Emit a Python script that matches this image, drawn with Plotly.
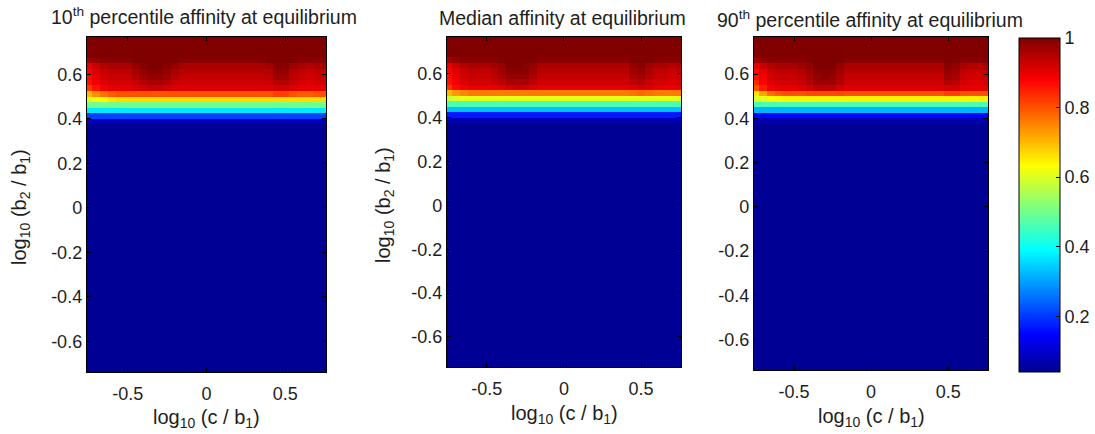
import plotly.graph_objects as go

W, H = 1095, 434

# ---- grid (cell centres) ----
x_vals = [round(-0.75 + 0.05 * i, 3) for i in range(31)]
y_vals = [round(-0.7375 + 0.025 * k, 4) for k in range(61)]  # ascending

x_tick_vals = [-0.5, 0, 0.5]
x_tick_text = ["-0.5", "0", "0.5"]
y_tick_vals = [-0.6, -0.4, -0.2, 0, 0.2, 0.4, 0.6]
y_tick_text = ["-0.6", "-0.4", "-0.2", "0", "0.2", "0.4", "0.6"]
cbar_tick_vals = [0.2, 0.4, 0.6, 0.8, 1.0]
cbar_tick_text = ["0.2", "0.4", "0.6", "0.8", "1"]

titles = ["10<sup>th</sup> percentile affinity at equilibrium",
          "Median affinity at equilibrium",
          "90<sup>th</sup> percentile affinity at equilibrium"]

# rows below y = 0.3875 are uniformly at the minimum (dark blue)
blue_row = [0.045] * 31
n_blue_rows = 45
top_row = [1.0] * 31  # rows 0.6875 .. 0.7625

# ---- 10th percentile: rows from y=0.6625 down to y=0.3875 ----
p10_rows = [
    [0.97, 0.98] + [0.99] * 4 + [1, 1, 1, 1, 1, 1] + [0.99] * 11 + [1, 1, 1, 1] + [0.99] * 4,
    [0.90, 0.93] + [0.95, 0.96, 0.96, 0.96] + [0.98, 0.99, 1.0, 1.0, 0.99, 0.98] + [0.96] * 11 + [0.97, 0.99, 0.99, 0.97] + [0.96, 0.95, 0.96, 0.96],
    [0.88, 0.91] + [0.93, 0.94, 0.94, 0.94] + [0.96, 0.98, 0.99, 0.99, 0.98, 0.96] + [0.945] * 11 + [0.95, 0.98, 0.98, 0.95] + [0.94, 0.93, 0.94, 0.94],
    [0.87, 0.90] + [0.92, 0.93, 0.93, 0.93] + [0.95, 0.97, 0.98, 0.98, 0.97, 0.95] + [0.935] * 11 + [0.94, 0.97, 0.97, 0.94] + [0.93, 0.92, 0.93, 0.93],
    [0.86, 0.89] + [0.91, 0.92, 0.92, 0.92] + [0.93, 0.95, 0.96, 0.96, 0.95, 0.93] + [0.925] * 11 + [0.93, 0.95, 0.95, 0.93] + [0.92, 0.91, 0.92, 0.92],
    [0.82, 0.86] + [0.89, 0.90, 0.90, 0.90] + [0.91, 0.92, 0.93, 0.93, 0.92, 0.91] + [0.91] * 11 + [0.91, 0.92, 0.92, 0.91] + [0.90] * 4,
    [0.70, 0.74] + [0.77, 0.79, 0.80, 0.80] + [0.80] * 6 + [0.80] * 11 + [0.80, 0.82, 0.82, 0.80] + [0.79, 0.79, 0.80, 0.80],
    [0.60, 0.62] + [0.64, 0.66, 0.67, 0.67] + [0.67] * 25,
    [0.50] * 31,
    [0.37] * 31,
    [0.21] * 31,
    [0.08] * 31,
]

# ---- median ----
p50_rows = [
    [0.97, 0.98] + [0.99] * 5 + [1, 1, 1, 1, 1] + [0.99] * 12 + [1, 1, 1] + [0.99] * 4,
    [0.90, 0.93] + [0.95, 0.96, 0.96, 0.96, 0.97] + [0.98, 1.0, 1.0, 0.99, 0.98] + [0.96] * 12 + [0.98, 0.99, 0.97] + [0.96, 0.96, 0.95, 0.96],
    [0.88, 0.91] + [0.93, 0.94, 0.94, 0.94, 0.95] + [0.97, 0.99, 0.99, 0.99, 0.97] + [0.945] * 12 + [0.97, 0.98, 0.96] + [0.94, 0.94, 0.93, 0.94],
    [0.87, 0.90] + [0.92, 0.93, 0.93, 0.93, 0.94] + [0.96, 0.98, 0.98, 0.98, 0.96] + [0.935] * 12 + [0.96, 0.97, 0.95] + [0.93, 0.93, 0.92, 0.93],
    [0.86, 0.89] + [0.91, 0.92, 0.92, 0.92, 0.93] + [0.94, 0.96, 0.96, 0.96, 0.94] + [0.925] * 12 + [0.94, 0.95, 0.93] + [0.92, 0.92, 0.91, 0.92],
    [0.83, 0.87] + [0.89, 0.90, 0.90, 0.90, 0.90] + [0.91, 0.92, 0.93, 0.92, 0.91] + [0.905] * 12 + [0.91, 0.92, 0.91] + [0.90] * 4,
    [0.70, 0.73] + [0.75, 0.76, 0.76, 0.76, 0.76] + [0.76] * 5 + [0.76] * 12 + [0.77, 0.78, 0.77] + [0.76] * 4,
    [0.58, 0.60] + [0.61] * 29,
    [0.46] * 31,
    [0.33] * 31,
    [0.17] * 31,
    [0.07] * 31,
]

# ---- 90th percentile ----
p90_rows = [
    [0.97, 0.98] + [0.99] * 5 + [1, 1, 1, 1, 1] + [0.99] * 13 + [1, 1] + [0.99] * 4,
    [0.90, 0.93] + [0.95, 0.96, 0.96, 0.96, 0.97] + [0.98, 1.0, 1.0, 1.0, 0.98] + [0.96] * 13 + [0.99, 0.98] + [0.96, 0.95, 0.95, 0.96],
    [0.87, 0.90] + [0.93, 0.94, 0.94, 0.94, 0.95] + [0.97, 0.99, 0.99, 0.99, 0.97] + [0.945] * 13 + [0.98, 0.97] + [0.94, 0.93, 0.93, 0.94],
    [0.86, 0.89] + [0.92, 0.93, 0.93, 0.93, 0.94] + [0.96, 0.98, 0.99, 0.98, 0.96] + [0.935] * 13 + [0.97, 0.96] + [0.93, 0.92, 0.92, 0.93],
    [0.84, 0.88] + [0.91, 0.92, 0.92, 0.92, 0.93] + [0.95, 0.97, 0.97, 0.97, 0.95] + [0.925] * 13 + [0.95, 0.94] + [0.92, 0.91, 0.91, 0.92],
    [0.80, 0.85] + [0.89, 0.90, 0.90, 0.90, 0.91] + [0.92, 0.94, 0.94, 0.94, 0.92] + [0.91] * 13 + [0.92, 0.92] + [0.90] * 4,
    [0.66, 0.72] + [0.77, 0.79, 0.80, 0.80, 0.80] + [0.81] * 5 + [0.80] * 13 + [0.82, 0.82] + [0.80] * 4,
    [0.60, 0.61] + [0.63, 0.64, 0.65, 0.65, 0.65] + [0.65] * 24,
    [0.46] * 31,
    [0.32] * 31,
    [0.15] * 31,
    [0.07] * 31,
]


def build_z(rows_top_down):
    # rows_top_down: y=0.6625 ... 0.3875 ; build ascending matrix
    z = [blue_row] * n_blue_rows
    z += list(reversed(rows_top_down))
    z += [top_row] * 4
    for r in z:
        assert len(r) == 31
    assert len(z) == len(y_vals)
    return z


jet64 = [[0.0, "rgb(0,0,143)"], [0.111, "rgb(0,0,255)"], [0.365, "rgb(0,255,255)"],
         [0.619, "rgb(255,255,0)"], [0.873, "rgb(255,0,0)"], [1.0, "rgb(128,0,0)"]]

fig = go.Figure()
panels = [p10_rows, p50_rows, p90_rows]
for i, rows in enumerate(panels):
    sfx = "" if i == 0 else str(i + 1)
    fig.add_trace(go.Heatmap(x=x_vals, y=y_vals, z=build_z(rows), coloraxis="coloraxis",
                             xaxis="x" + sfx, yaxis="y" + sfx, zsmooth=False, hoverinfo="skip"))

font_family = "Liberation Sans, Arial, sans-serif"
txt_col = "#1e1e1e"


def fx(px):
    return px / W


def fy(py):
    return 1 - py / H


# screen-pixel boxes of the three panels (as seen in the reference)
px_x = [(87, 327), (448, 683), (756, 991)]
px_y = [(37, 372), (37, 367), (37, 370)]

layout = dict(width=W, height=H, margin=dict(l=0, r=0, t=0, b=0),
              paper_bgcolor="white", plot_bgcolor="white",
              font=dict(family=font_family, size=18, color=txt_col),
              showlegend=False)

for i in range(3):
    sfx = "" if i == 0 else str(i + 1)
    x0, x1 = px_x[i]
    y0, y1 = px_y[i]
    layout["xaxis" + sfx] = dict(domain=[fx(x0), fx(x1)], anchor="y" + sfx, range=[-0.76, 0.76],
                                 tickvals=x_tick_vals, ticktext=x_tick_text, ticks="inside", ticklen=4,
                                 tickcolor="black", showline=True, linecolor="black", linewidth=1,
                                 mirror="ticks", showgrid=False, zeroline=False,
                                 ticklabelstandoff=5,
                                 tickfont=dict(size=18, color=txt_col))
    layout["yaxis" + sfx] = dict(domain=[fy(y1), fy(y0)], anchor="x" + sfx, range=[-0.737, 0.768],
                                 tickvals=y_tick_vals, ticktext=y_tick_text, ticks="inside", ticklen=4,
                                 tickcolor="black", showline=True, linecolor="black", linewidth=1,
                                 mirror="ticks", showgrid=False, zeroline=False,
                                 tickfont=dict(size=18, color=txt_col))

layout["coloraxis"] = dict(cmin=0.04, cmax=1.0, colorscale=jet64,
                           colorbar=dict(x=fx(1022), xanchor="left", xpad=0,
                                         y=fy((38 + 372) / 2), yanchor="middle", ypad=0,
                                         len=(372 - 38) / H, lenmode="fraction",
                                         thickness=41, thicknessmode="pixels",
                                         outlinewidth=1, outlinecolor="black",
                                         tickvals=cbar_tick_vals, ticktext=cbar_tick_text,
                                         ticks="inside", ticklen=4, tickcolor="black",
                                         tickfont=dict(size=18, color=txt_col)))

annotations = []
title_pos = [(205, 16), (564, 18), (872, 19)]
for i, t in enumerate(titles):
    cx, cy = title_pos[i]
    annotations.append(dict(text=t, x=fx(cx), y=fy(cy), xref="paper", yref="paper",
                            xanchor="center", yanchor="middle", showarrow=False,
                            font=dict(size=19.5, color=txt_col)))
xlab_pos = [(207, 418), (566, 414), (874, 417)]
for cx, cy in xlab_pos:
    annotations.append(dict(text="log<sub>10</sub> (c / b<sub>1</sub>)", x=fx(cx), y=fy(cy),
                            xref="paper", yref="paper", xanchor="center", yanchor="middle",
                            showarrow=False, font=dict(size=20, color=txt_col)))
ylab_pos = [(20, 207), (385, 205)]
for cx, cy in ylab_pos:
    annotations.append(dict(text="log<sub>10</sub> (b<sub>2</sub> / b<sub>1</sub>)", x=fx(cx), y=fy(cy),
                            xref="paper", yref="paper", xanchor="center", yanchor="middle",
                            textangle=-90, showarrow=False, font=dict(size=20, color=txt_col)))
layout["annotations"] = annotations

fig.update_layout(**layout)
# remove the browser's default 8px body margin so the figure fills the window exactly
fig.write_html("out.html", config={"displayModeBar": False},
               post_script="document.body.style.margin='0px';")
